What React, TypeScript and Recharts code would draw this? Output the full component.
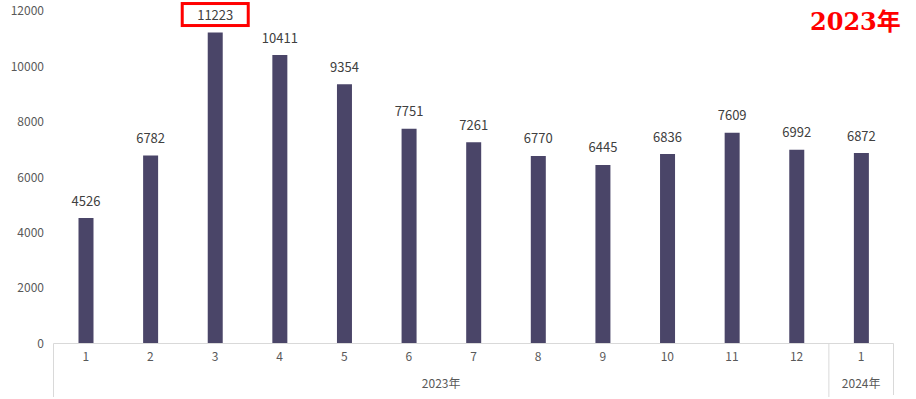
import { BarChart, Bar, XAxis, YAxis, LabelList } from "recharts";

const months = ["1", "2", "3", "4", "5", "6", "7", "8", "9", "10", "11", "12", "1"];
const years = ["2023年", "2023年", "2023年", "2023年", "2023年", "2023年", "2023年", "2023年", "2023年", "2023年", "2023年", "2023年", "2024年"];
const sales = [4526, 6782, 11223, 10411, 9354, 7751, 7261, 6770, 6445, 6836, 7609, 6992, 6872];
const yTicks = [0, 2000, 4000, 6000, 8000, 10000, 12000];
const highlightIndex = 2;

const data = months.map((m, i) => ({ key: `${years[i]}-${m}`, month: m, year: years[i], value: sales[i] }));

const FONT = "'Noto Sans CJK SC', 'Noto Sans', sans-serif";
const LINE = "#d9d9d9";
const CHART_H = 399;

function MonthTick(props: any) {
  const { x, y, payload, index } = props;
  const half = payload.offset || 32.3;
  const left = x - half;
  const year = years[index];
  const isStart = index === 0 || years[index - 1] !== year;
  const isEnd = index === years.length - 1;
  let groupSize = 0;
  if (isStart) {
    for (let j = index; j < years.length && years[j] === year; j++) groupSize++;
  }
  const axisY = y - 8;
  return (
    <g>
      <text x={x} y={y + 9} textAnchor="middle" fontSize={12} fill="#595959" fontFamily={FONT}>
        {months[index]}
      </text>
      {isStart && (
        <>
          <line x1={left} x2={left} y1={axisY} y2={CHART_H - 2} stroke={LINE} />
          <text x={left + groupSize * half} y={y + 36} textAnchor="middle" fontSize={12} fill="#595959" fontFamily={FONT}>
            {year}
          </text>
        </>
      )}
      {isEnd && <line x1={x + half} x2={x + half} y1={axisY} y2={CHART_H - 4} stroke={LINE} />}
    </g>
  );
}

function ValueLabel(props: any) {
  const { x, y, width, value, index } = props;
  const cx = x + width / 2;
  const ty = y - 18;
  return (
    <g>
      {index === highlightIndex && (
        <rect x={cx - 33} y={ty - 11} width={66} height={22} fill="none" stroke="#ff0000" strokeWidth={3} />
      )}
      <text x={cx} y={ty} textAnchor="middle" dominantBaseline="central" fontSize={13} fill="#404040" fontFamily={FONT}>
        {value}
      </text>
    </g>
  );
}

export default function App() {
  return (
    <div style={{ position: "fixed", left: 0, top: 0, width: 916, height: CHART_H, background: "#fff" }}>
      <BarChart
        width={916}
        height={CHART_H}
        data={data}
        margin={{ top: 11, right: 22.5, left: 0, bottom: 0 }}
      >
        <XAxis
          dataKey="key"
          height={55.5}
          axisLine={{ stroke: LINE }}
          tickLine={false}
          interval={0}
          tick={<MonthTick />}
        />
        <YAxis
          width={53.5}
          domain={[0, 12000]}
          ticks={yTicks}
          axisLine={false}
          tickLine={false}
          tickMargin={3.5}
          tick={{ fontSize: 12, fill: "#595959", fontFamily: FONT }}
        />
        <Bar dataKey="value" fill="#4a4568" barSize={15} isAnimationActive={false}>
          <LabelList dataKey="value" content={<ValueLabel />} />
        </Bar>
      </BarChart>
      <div
        style={{
          position: "absolute",
          left: 810,
          top: 6,
          color: "#ff0000",
          fontWeight: "bold",
          fontSize: 24,
          fontFamily: "'DejaVu Serif', 'Liberation Serif', 'Noto Sans CJK SC', serif",
          lineHeight: "32px",
        }}
      >
        2023年
      </div>
    </div>
  );
}
